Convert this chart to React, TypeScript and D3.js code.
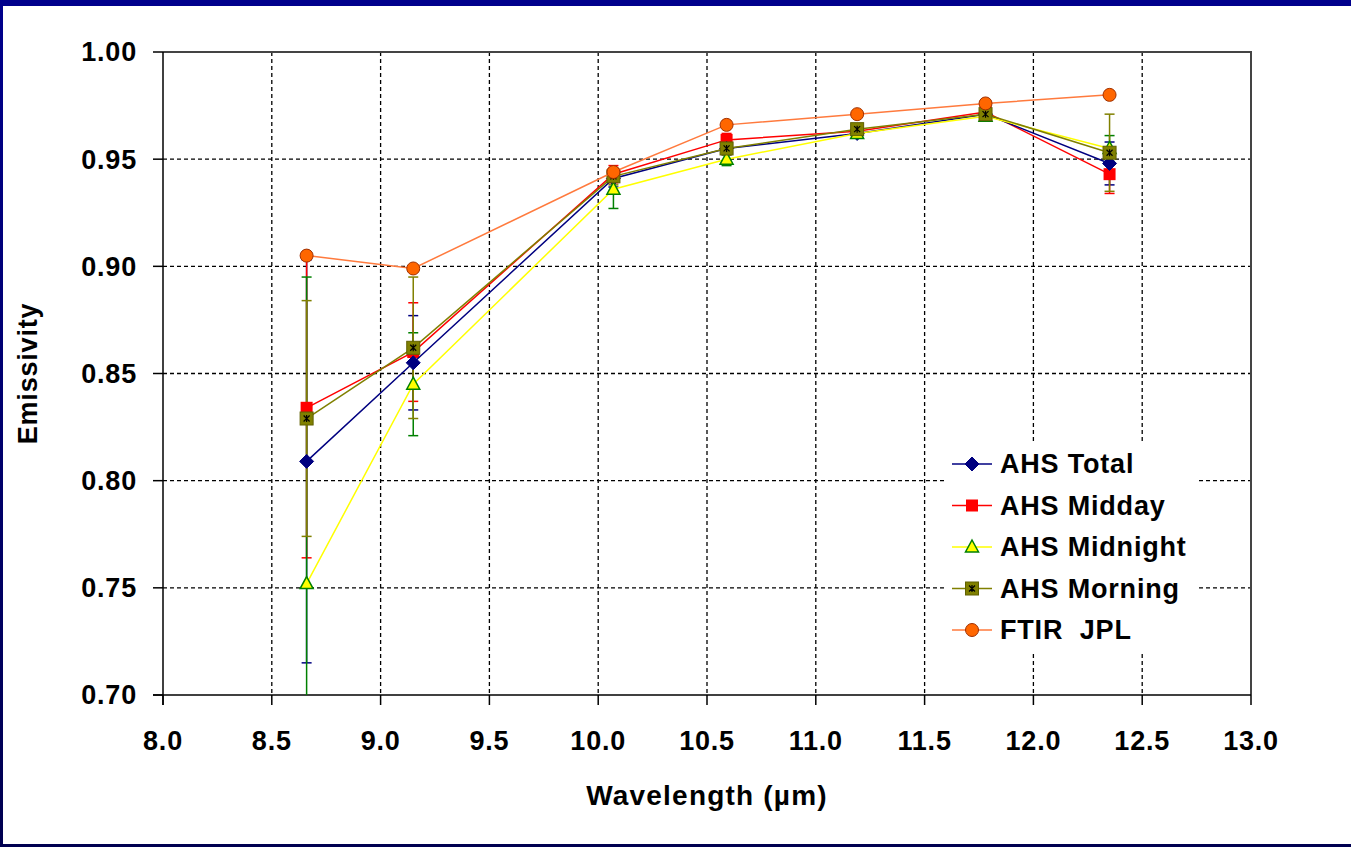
import React from 'react';
import * as d3 from 'd3';

// AHS band centres (µm)
const wavelengths = [8.66, 9.15, 10.07, 10.59, 11.19, 11.78, 12.35];

const ahsTotal = [0.809, 0.855, 0.941, 0.955, 0.962, 0.971, 0.948];
const ahsMidday = [0.834, 0.860, 0.943, 0.959, 0.963, 0.972, 0.943];
const ahsMidnight = [0.752, 0.845, 0.936, 0.950, 0.962, 0.970, 0.955];
const ahsMorning = [0.829, 0.862, 0.942, 0.955, 0.964, 0.971, 0.953];
const ftirJpl = [0.905, 0.899, 0.944, 0.966, 0.971, 0.976, 0.980];

const totalErr = [0.094, 0.022, 0.004, 0.003, 0.002, 0.002, 0.010];
const middayErr = [0.070, 0.023, 0.004, 0.003, 0.002, 0.002, 0.009];
const midnightErr = [0.143, 0.024, 0.009, 0.003, 0.002, 0.002, 0.006];
const morningErr = [0.055, 0.033, 0.004, 0.003, 0.002, 0.002, 0.018];

const xTicks = [8.0, 8.5, 9.0, 9.5, 10.0, 10.5, 11.0, 11.5, 12.0, 12.5, 13.0];
const yTicks = [0.70, 0.75, 0.80, 0.85, 0.90, 0.95, 1.00];

const W = 1351;
const H = 847;
const left = 163, right = 1251, top = 52, bottom = 695;
const FONT = '"Liberation Sans", Arial, sans-serif';

const x = d3.scaleLinear().domain([8, 13]).range([left, right]);
const y = d3.scaleLinear().domain([0.7, 1.0]).range([bottom, top]);

type Series = {
  name: string;
  values: number[];
  err?: number[];
  line: string;
  errColor?: string;
  marker: string;
};

const series: Series[] = [
  { name: 'AHS Total', values: ahsTotal, err: totalErr, line: '#000080', errColor: '#000080', marker: 'diamond' },
  { name: 'AHS Midday', values: ahsMidday, err: middayErr, line: '#ff0000', errColor: '#ff0000', marker: 'square' },
  { name: 'AHS Midnight', values: ahsMidnight, err: midnightErr, line: '#ffff00', errColor: '#008000', marker: 'triangle' },
  { name: 'AHS Morning', values: ahsMorning, err: morningErr, line: '#808000', errColor: '#808000', marker: 'star' },
  { name: 'FTIR  JPL', values: ftirJpl, line: '#ff7a3d', marker: 'circle' },
];

function Marker({ kind, cx, cy }: { kind: string; cx: number; cy: number }) {
  if (kind === 'diamond') {
    const p = d3.path();
    p.moveTo(cx, cy - 7); p.lineTo(cx + 7, cy); p.lineTo(cx, cy + 7); p.lineTo(cx - 7, cy); p.closePath();
    return <path d={p.toString()} fill="#000080" stroke="#000080" strokeWidth={1} />;
  }
  if (kind === 'square') {
    return <rect x={cx - 6} y={cy - 6} width={12} height={12} fill="#ff0000" />;
  }
  if (kind === 'triangle') {
    const p = d3.path();
    p.moveTo(cx, cy - 7); p.lineTo(cx + 6.5, cy + 5); p.lineTo(cx - 6.5, cy + 5); p.closePath();
    return <path d={p.toString()} fill="#ffff00" stroke="#008000" strokeWidth={1.5} />;
  }
  if (kind === 'star') {
    return (
      <g>
        <rect x={cx - 6.5} y={cy - 6.5} width={13} height={13} fill="#808000" stroke="#606000" strokeWidth={1} />
        <path d={`M${cx - 3},${cy - 3}L${cx + 3},${cy + 3}M${cx + 3},${cy - 3}L${cx - 3},${cy + 3}M${cx},${cy - 3.5}L${cx},${cy + 3.5}`} stroke="#000" strokeWidth={1.2} />
      </g>
    );
  }
  return <circle cx={cx} cy={cy} r={6.5} fill="#ff6600" stroke="#a03000" strokeWidth={1} />;
}

export default function App() {
  const lineGen = d3.line<number>()
    .x((_, i) => x(wavelengths[i]))
    .y((d) => y(d));

  const drawOrder = [1, 0, 2, 3, 4];

  return (
    <svg width={W} height={H} style={{ position: 'absolute', left: 0, top: 0, background: '#fff' }} fontFamily={FONT}>
      <defs>
        <clipPath id="plot">
          <rect x={left} y={top} width={right - left} height={bottom - top} />
        </clipPath>
        <linearGradient id="edge" x1="0" y1="0" x2="0" y2="1">
          <stop offset="0" stopColor="#00008c" />
          <stop offset="1" stopColor="#000050" />
        </linearGradient>
      </defs>
      <rect x={0} y={0} width={W} height={H} fill="#fff" />

      {/* grid */}
      {yTicks.filter((t) => t > 0.7 && t < 1.0).map((t) => (
        <line key={'gy' + t} x1={left} x2={right} y1={y(t)} y2={y(t)} stroke="#000" strokeWidth={1.3} strokeDasharray="4,3" />
      ))}
      {xTicks.filter((t) => t > 8 && t < 13).map((t) => (
        <line key={'gx' + t} x1={x(t)} x2={x(t)} y1={top} y2={bottom} stroke="#000" strokeWidth={1.3} strokeDasharray="4,3" />
      ))}

      {/* frame */}
      <path d={`M${left},${top}H${right}V${bottom}`} fill="none" stroke="#444" strokeWidth={2} />
      <line x1={left} x2={left} y1={top} y2={bottom + 10} stroke="#000" strokeWidth={1.5} />
      <line x1={left - 10} x2={right} y1={bottom} y2={bottom} stroke="#000" strokeWidth={1.5} />
      {yTicks.map((t) => (
        <g key={'ty' + t}>
          <line x1={left - 10} x2={left} y1={y(t)} y2={y(t)} stroke="#000" strokeWidth={1.5} />
          <text x={137} y={y(t)} dy="0.35em" textAnchor="end" fontSize={27} fontWeight="bold" letterSpacing={0.8}>{t.toFixed(2)}</text>
        </g>
      ))}
      {xTicks.map((t) => (
        <g key={'tx' + t}>
          <line x1={x(t)} x2={x(t)} y1={bottom} y2={bottom + 10} stroke="#000" strokeWidth={1.5} />
          <text x={x(t)} y={750} textAnchor="middle" fontSize={27} fontWeight="bold" letterSpacing={0.8}>{t.toFixed(1)}</text>
        </g>
      ))}

      <text x={(left + right) / 2} y={805} textAnchor="middle" fontSize={28} fontWeight="bold" letterSpacing={1.2}>Wavelength (µm)</text>
      <text transform={`translate(28,${(top + bottom) / 2}) rotate(-90)`} textAnchor="middle" dy="0.35em" fontSize={27} fontWeight="bold" letterSpacing={0.8}>Emissivity</text>

      {/* error bars */}
      <g clipPath="url(#plot)">
        {series.filter((s) => s.err).map((s) => (
          <g key={'e' + s.name}>
            {s.values.map((v, i) => {
              const e = s.err![i];
              const cx = x(wavelengths[i]);
              return (
                <g key={i} stroke={s.errColor} strokeWidth={1.5}>
                  <line x1={cx} x2={cx} y1={y(v + e)} y2={y(v - e)} />
                  <line x1={cx - 5} x2={cx + 5} y1={y(v + e)} y2={y(v + e)} />
                  <line x1={cx - 5} x2={cx + 5} y1={y(v - e)} y2={y(v - e)} />
                </g>
              );
            })}
          </g>
        ))}
      </g>

      {/* lines + markers */}
      {drawOrder.map((k) => {
        const s = series[k];
        return (
          <g key={'s' + s.name}>
            <path d={lineGen(s.values) ?? ''} fill="none" stroke={s.line} strokeWidth={1.5} />
            {s.values.map((v, i) => (
              <Marker key={i} kind={s.marker} cx={x(wavelengths[i])} cy={y(v)} />
            ))}
          </g>
        );
      })}

      {/* legend */}
      <g>
        <rect x={945} y={443} width={252} height={210} fill="#fff" />
        {series.map((s, i) => {
          const cy = 464 + i * 41.5;
          return (
            <g key={'l' + s.name}>
              <line x1={952} x2={992} y1={cy} y2={cy} stroke={s.line} strokeWidth={1.5} />
              <Marker kind={s.marker} cx={972} cy={cy} />
              <text x={1000} y={cy} dy="0.35em" fontSize={27} fontWeight="bold" letterSpacing={0.8} style={{ whiteSpace: 'pre' }}>{s.name}</text>
            </g>
          );
        })}
      </g>

      {/* slide border */}
      <rect x={0} y={0} width={W} height={6} fill="#00008c" />
      <rect x={0} y={0} width={3} height={H} fill="url(#edge)" />
      <rect x={0} y={H - 3} width={W} height={3} fill="#000050" />
    </svg>
  );
}
